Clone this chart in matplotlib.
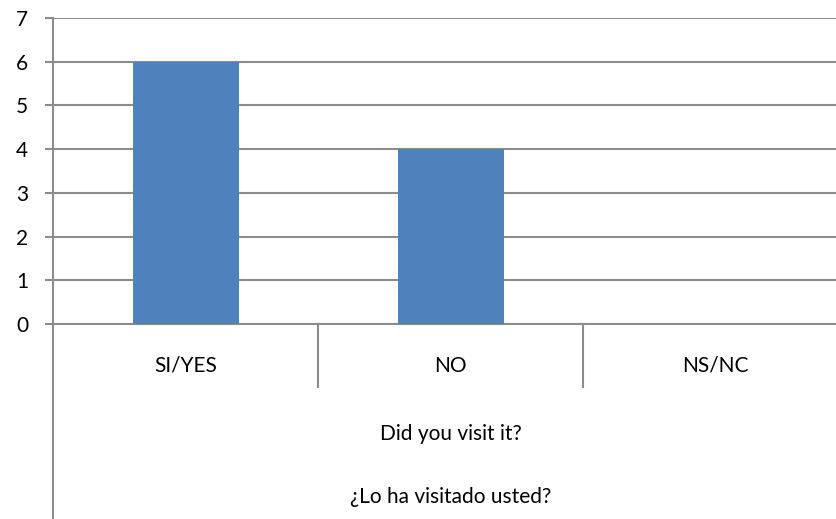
import matplotlib.pyplot as plt
from matplotlib.lines import Line2D

categorias = ['SI/YES', 'NO', 'NS/NC']
valores = [6, 4, 0]
titulo_eje = ['Did you visit it?', '¿Lo ha visitado usted?']

plt.rcParams['font.family'] = ['Lato', 'DejaVu Sans']

W, H = 836, 519
fig = plt.figure(figsize=(W / 100, H / 100), dpi=100)
# ejes en píxeles: izquierda 53, derecha 848 (sale de la imagen), arriba 18, abajo 324
ax = fig.add_axes([53 / W, (H - 324) / H, (848 - 53) / W, (324 - 18) / H])

gris = '#8c8c8c'
ax.bar(range(len(categorias)), valores, width=0.4, color='#4F81BD', zorder=3)

ax.set_xlim(-0.5, len(categorias) - 0.5)
ax.set_ylim(0, 7)
ax.set_yticks(range(0, 8))
ax.yaxis.grid(True, color=gris, linewidth=1.5)
ax.set_axisbelow(True)

for s in ['top', 'right']:
    ax.spines[s].set_visible(False)
ax.spines['left'].set_color(gris)
ax.spines['left'].set_linewidth(1.5)
ax.spines['bottom'].set_color(gris)
ax.spines['bottom'].set_linewidth(1.5)

ax.tick_params(axis='y', length=5.8, width=1.5, color=gris, labelsize=15, pad=12)

# separadores entre categorías
ax.set_xticks([i + 0.5 for i in range(len(categorias) - 1)], minor=True)
ax.tick_params(axis='x', which='minor', length=46, width=1.5, color=gris)
ax.set_xticks(range(len(categorias)))
ax.set_xticklabels(categorias)
ax.tick_params(axis='x', which='major', length=0, labelsize=15, pad=23)

# eje vertical prolongado hasta abajo
fig.add_artist(Line2D([53 / W, 53 / W], [0, (H - 324) / H], color=gris, linewidth=1.5))

fig.text(451 / W, 1 - 440 / H, titulo_eje[0], ha='center', va='baseline', fontsize=15)
fig.text(451 / W, 1 - 503 / H, titulo_eje[1], ha='center', va='baseline', fontsize=15)

fig.savefig('out.png', dpi=100)
